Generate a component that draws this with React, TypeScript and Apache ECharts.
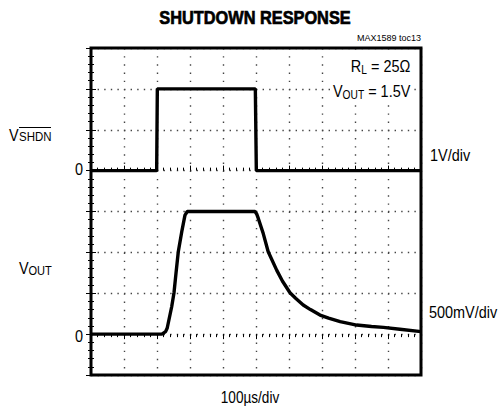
import React, { useEffect, useRef } from 'react';
import * as echarts from 'echarts';

// time axis (µs), 100 µs/div, 10 divisions
const timeMin = 0;
const timeMax = 1000;
const timeStep = 100;

// V_SHDN trace (V), 1 V/div, zero at 5th division from bottom
const shdnTime = [0, 199, 201, 498, 501, 1000];
const shdnVolt = [0, 0, 2, 2, 0, 0];
const shdnMin = -5;
const shdnMax = 3;
const shdnStep = 1;

// V_OUT trace (V), 500 mV/div, zero at 1st division from bottom
const outTime = [0, 215, 226, 231, 244.5, 251.5, 257.6, 264.5, 275.8, 284.8, 291.8, 497, 502, 507, 522, 537, 563, 580, 603, 620, 643, 665, 694, 720, 755, 805, 850, 886, 936, 1000];
const outVolt = [0, 0, 0.03, 0.075, 0.335, 0.506, 0.747, 1.007, 1.27, 1.456, 1.5, 1.5, 1.47, 1.415, 1.23, 1.007, 0.78, 0.65, 0.506, 0.44, 0.356, 0.3, 0.233, 0.195, 0.152, 0.111, 0.094, 0.083, 0.06, 0.03];
const outMin = -0.5;
const outMax = 3.5;
const outStep = 0.5;

const FAM = "'Liberation Sans', Arial, sans-serif";
const SX = 0.85;

function txt(x: number, y: number, text: string, size: number, align: string, weight = 'normal', sx = SX, extra: any = {}) {
  return {
    type: 'text',
    x,
    y,
    scaleX: sx,
    z: 100,
    style: {
      text,
      fontSize: size,
      fontFamily: FAM,
      fontWeight: weight,
      fill: '#000',
      align,
      textAlign: align,
      verticalAlign: 'middle',
      textVerticalAlign: 'middle',
      ...extra,
    },
  };
}

export default function App() {
  const ref = useRef<HTMLDivElement>(null);
  useEffect(() => {
    document.body.style.margin = '0';
    const chart = echarts.init(ref.current!, undefined, { renderer: 'svg' });
    const gridLine = (dash: number[]) => ({
      show: true,
      lineStyle: { color: '#444', width: 1.4, type: dash },
    });
    const tickCfg = {
      show: true,
      inside: true,
      length: 5,
      lineStyle: { color: '#000', width: 1 },
    };
    const minorCfg = {
      show: true,
      splitNumber: 5,
      length: 3,
      lineStyle: { color: '#000', width: 1 },
    };
    const baseX = {
      type: 'value',
      min: timeMin,
      max: timeMax,
      interval: timeStep,
      axisLabel: { show: false },
      axisLine: { show: false },
      axisTick: tickCfg,
      minorTick: minorCfg,
    };
    const richSub = {
      m: { fontSize: 17, fontFamily: FAM, color: '#000' },
      s: { fontSize: 12, fontFamily: FAM, color: '#000', padding: [8, 0, 0, 0] },
    };
    const richText = (y: number, text: string) => ({
      type: 'text',
      x: 412,
      y,
      scaleX: SX,
      z: 100,
      style: {
        text,
        rich: richSub,
        align: 'right',
        textAlign: 'right',
        verticalAlign: 'middle',
        textVerticalAlign: 'middle',
        backgroundColor: '#fff',
        padding: [1, 2, 1, 3],
      },
    });
    chart.setOption({
      animation: false,
      backgroundColor: '#fff',
      grid: {
        left: 91,
        top: 48,
        width: 330,
        height: 327,
        show: true,
        borderColor: '#000',
        borderWidth: 3,
        backgroundColor: 'transparent',
        z: 3,
      },
      xAxis: [
        { ...baseX, position: 'bottom', splitLine: gridLine([1.4, 6.78]) },
        { ...baseX, position: 'top', splitLine: { show: false } },
      ],
      yAxis: [
        {
          type: 'value',
          position: 'left',
          min: shdnMin,
          max: shdnMax,
          interval: shdnStep,
          axisLabel: { show: false },
          axisLine: { show: false },
          axisTick: tickCfg,
          minorTick: minorCfg,
          splitLine: gridLine([1.4, 5.2]),
        },
        {
          type: 'value',
          position: 'right',
          min: outMin,
          max: outMax,
          interval: outStep,
          axisLabel: { show: false },
          axisLine: { show: false },
          axisTick: tickCfg,
          minorTick: minorCfg,
          splitLine: { show: false },
        },
      ],
      series: [
        {
          type: 'line',
          xAxisIndex: 0,
          yAxisIndex: 0,
          data: shdnTime.map((t, i) => [t, shdnVolt[i]]),
          showSymbol: false,
          lineStyle: { color: '#000', width: 3.4 },
          z: 5,
        },
        {
          type: 'line',
          xAxisIndex: 0,
          yAxisIndex: 1,
          data: outTime.map((t, i) => [t, outVolt[i]]),
          showSymbol: false,
          lineStyle: { color: '#000', width: 3.4 },
          z: 5,
        },
      ],
      graphic: [
        txt(255, 17.5, 'SHUTDOWN RESPONSE', 19, 'center', 'bold', 0.86, { stroke: '#000', lineWidth: 0.7 }),
        txt(421, 38, 'MAX1589 toc13', 9.5, 'right', 'normal', 0.95),
        richText(66, '{m|R}{s|L}{m| = 25Ω}'),
        richText(91, '{m|V}{s|OUT}{m| = 1.5V}'),
        // left labels
        txt(9, 135, 'V', 17, 'left'),
        txt(19, 137, 'SHDN', 13.5, 'left'),
        { type: 'line', z: 100, shape: { x1: 19, y1: 127.5, x2: 51, y2: 127.5 }, style: { stroke: '#000', lineWidth: 1 } },
        txt(83, 169.5, '0', 17, 'right'),
        txt(19, 268.5, 'V', 17, 'left'),
        txt(28.5, 271, 'OUT', 13, 'left'),
        txt(83, 336.5, '0', 17, 'right'),
        // right labels
        txt(430, 155.5, '1V/div', 17, 'left'),
        txt(429, 312, '500mV/div', 17, 'left'),
        // bottom label
        txt(250, 397.5, '100µs/div', 16, 'center'),
      ],
    });
    return () => chart.dispose();
  }, []);
  return <div ref={ref} style={{ position: 'absolute', left: 0, top: 0, width: 500, height: 410 }} />;
}
